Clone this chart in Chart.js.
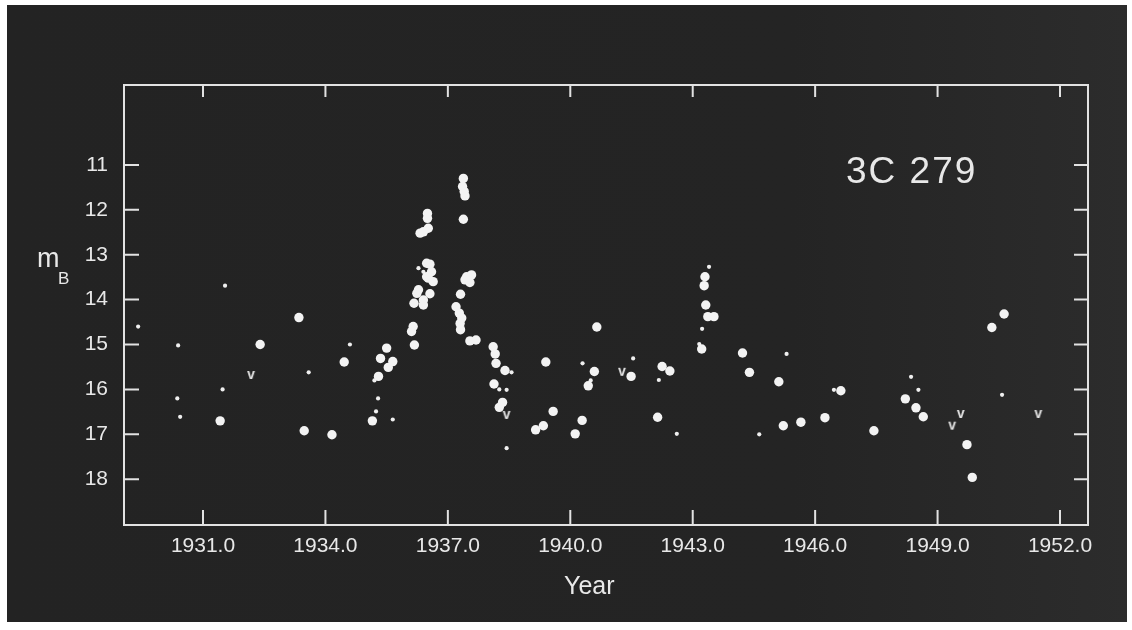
<!DOCTYPE html>
<html>
<head>
<meta charset="utf-8">
<title>3C 279</title>
<style>
  html, body { margin: 0; padding: 0; background: #fff; }
  #wrap { width: 1132px; height: 630px; position: relative; }
</style>
<script src="https://cdn.jsdelivr.net/npm/chart.js"></script>
</head>
<body>
<div id="wrap"><canvas id="lightCurve"></canvas></div>
<script>
// large dots
const largeYear = [
  1933.35, 1932.40, 1934.46, 1935.35, 1935.30, 1931.42, 1935.15, 1933.48, 1934.16,
  1936.15, 1936.11, 1936.18, 1937.31, 1937.54, 1937.69, 1935.50, 1935.65, 1935.54,
  1938.11, 1938.16, 1938.18, 1938.40, 1938.13, 1938.34, 1938.26,
  1939.40, 1939.58, 1939.34, 1939.15,
  1937.38, 1937.36, 1937.40, 1937.42, 1937.38,
  1936.50, 1936.50, 1936.52, 1936.40, 1936.32,
  1936.48, 1936.56, 1936.60, 1936.48, 1936.64, 1936.52,
  1937.46, 1937.58, 1937.54, 1937.42,
  1936.28, 1936.24, 1936.56, 1937.31,
  1936.40, 1936.17, 1936.40,
  1937.20, 1937.28, 1937.34, 1937.30,
  1943.30, 1943.28, 1943.32, 1943.37, 1943.52, 1943.22,
  1940.65, 1940.59, 1940.44, 1941.49, 1942.25, 1942.44, 1942.14, 1940.29, 1940.12,
  1944.22, 1944.39, 1945.11, 1945.22, 1945.65,
  1950.63, 1950.33, 1946.63, 1946.24, 1947.44,
  1948.21, 1948.47, 1948.65, 1949.72, 1949.85
];
const largeMag = [
  14.40, 15.00, 15.39, 15.31, 15.71, 16.70, 16.70, 16.92, 17.01,
  14.60, 14.71, 15.01, 14.67, 14.92, 14.90, 15.08, 15.38, 15.51,
  15.05, 15.21, 15.42, 15.58, 15.88, 16.29, 16.40,
  15.39, 16.49, 16.81, 16.90,
  11.30, 11.48, 11.59, 11.69, 12.21,
  12.08, 12.19, 12.41, 12.49, 12.52,
  13.19, 13.21, 13.38, 13.49, 13.60, 13.52,
  13.49, 13.45, 13.62, 13.56,
  13.78, 13.86, 13.87, 13.88,
  14.01, 14.08, 14.12,
  14.16, 14.30, 14.41, 14.53,
  13.49, 13.69, 14.12, 14.38, 14.38, 15.10,
  14.61, 15.60, 15.92, 15.71, 15.49, 15.59, 16.62, 16.69, 16.99,
  15.19, 15.62, 15.83, 16.81, 16.73,
  14.32, 14.62, 16.03, 16.63, 16.92,
  16.21, 16.41, 16.61, 17.23, 17.96
];

// small dots
const smallYear = [
  1931.54, 1929.41, 1930.39, 1934.60, 1933.59, 1935.20, 1931.48, 1930.37, 1935.29,
  1930.44, 1935.24, 1935.65, 1938.56, 1938.26, 1938.44, 1938.44, 1936.28, 1936.40,
  1943.40, 1943.23, 1943.16, 1940.30, 1940.50, 1941.54, 1942.17, 1942.61,
  1945.30, 1944.63, 1946.46, 1948.35, 1948.53, 1950.58
];
const smallMag = [
  13.69, 14.60, 15.02, 15.00, 15.62, 15.80, 16.00, 16.20, 16.20,
  16.61, 16.49, 16.67, 15.62, 16.00, 16.01, 17.31, 13.30, 13.38,
  13.27, 14.65, 14.99, 15.42, 15.80, 15.31, 15.79, 16.99,
  15.21, 17.00, 16.01, 15.72, 16.01, 16.12
];

// "v" marks (fainter than)
const limitYear = [1932.18, 1938.44, 1941.27, 1949.57, 1949.36, 1951.47];
const limitMag = [15.70, 16.59, 15.63, 16.57, 16.83, 16.57];

const xTicks = [1931, 1934, 1937, 1940, 1943, 1946, 1949, 1952];
const yTicks = [11, 12, 13, 14, 15, 16, 17, 18];

const ink = '#e8e8e8';
const fontName = '"Liberation Sans", Arial, sans-serif';

function pairs(xs, ys) {
  return xs.map((x, i) => ({ x: x, y: ys[i] }));
}

// little "v" glyph used as a point style
const vMark = document.createElement('canvas');
vMark.width = 14;
vMark.height = 14;
(function () {
  const c = vMark.getContext('2d');
  c.fillStyle = '#e4e4e4';
  c.font = 'bold 14px ' + fontName;
  c.textAlign = 'center';
  c.textBaseline = 'middle';
  c.fillText('v', 7, 6);
})();

const framePlugin = {
  id: 'frame',
  beforeDraw(chart) {
    const ctx = chart.ctx;
    ctx.save();
    ctx.fillStyle = '#fff';
    ctx.fillRect(0, 0, chart.width, chart.height);
    const g = ctx.createLinearGradient(7, 0, 1127, 0);
    g.addColorStop(0, '#232323');
    g.addColorStop(0.7, '#242424');
    g.addColorStop(1, '#2c2c2c');
    ctx.fillStyle = g;
    ctx.fillRect(7, 5, 1120, 617);
    ctx.restore();
  },
  afterDraw(chart) {
    const ctx = chart.ctx;
    const a = chart.chartArea;
    const xs = chart.scales.x, ys = chart.scales.y;
    ctx.save();
    ctx.strokeStyle = '#e2e2e2';
    ctx.lineWidth = 2;
    ctx.strokeRect(a.left, a.top, a.right - a.left, a.bottom - a.top);
    ctx.beginPath();
    xTicks.forEach(v => {
      const px = xs.getPixelForValue(v);
      ctx.moveTo(px, a.bottom); ctx.lineTo(px, a.bottom - 15);
      ctx.moveTo(px, a.top); ctx.lineTo(px, a.top + 12);
    });
    yTicks.forEach(v => {
      const py = ys.getPixelForValue(v);
      ctx.moveTo(a.left, py); ctx.lineTo(a.left + 15, py);
      ctx.moveTo(a.right, py); ctx.lineTo(a.right - 14, py);
    });
    ctx.stroke();

    ctx.fillStyle = ink;
    ctx.textBaseline = 'alphabetic';
    ctx.textAlign = 'left';
    ctx.font = '27px ' + fontName;
    ctx.fillText('m', 37, 267);
    ctx.font = '17px ' + fontName;
    ctx.fillText('B', 58, 284);

    ctx.font = '25px ' + fontName;
    ctx.fillText('Year', 564, 594);

    ctx.font = '37px ' + fontName;
    ctx.letterSpacing = '2px';
    ctx.fillText('3C 279', 846, 183);
    ctx.restore();
  }
};

new Chart(document.getElementById('lightCurve'), {
  type: 'scatter',
  data: {
    datasets: [
      {
        label: 'large',
        data: pairs(largeYear, largeMag),
        pointRadius: 4.7,
        backgroundColor: '#f3f3f3',
        borderWidth: 0
      },
      {
        label: 'small',
        data: pairs(smallYear, smallMag),
        pointRadius: 2.1,
        backgroundColor: '#efefef',
        borderWidth: 0
      },
      {
        label: 'limit',
        data: pairs(limitYear, limitMag),
        pointStyle: vMark,
        pointRadius: 7
      }
    ]
  },
  options: {
    responsive: true,
    maintainAspectRatio: false,
    animation: false,
    events: [],
    layout: { padding: { top: 85, right: 44, left: 0, bottom: 0 } },
    plugins: {
      legend: { display: false },
      tooltip: { enabled: false }
    },
    scales: {
      x: {
        type: 'linear',
        position: 'bottom',
        min: 1929.064,
        max: 1952.686,
        grid: { display: false, drawTicks: false },
        border: { display: false },
        afterBuildTicks: s => { s.ticks = xTicks.map(v => ({ value: v })); },
        afterFit: s => { s.height = 105; },
        ticks: {
          color: ink,
          font: { family: fontName, size: 21 },
          padding: 9,
          maxRotation: 0,
          autoSkip: false,
          callback: v => v.toFixed(1)
        }
      },
      y: {
        type: 'linear',
        reverse: true,
        min: 9.22,
        max: 19.02,
        grid: { display: false, drawTicks: false },
        border: { display: false },
        afterBuildTicks: s => { s.ticks = yTicks.map(v => ({ value: v })); },
        afterFit: s => { s.width = 124; },
        ticks: {
          color: ink,
          font: { family: fontName, size: 21 },
          padding: 16,
          callback: v => String(v)
        }
      }
    }
  },
  plugins: [framePlugin]
});
</script>
</body>
</html>
